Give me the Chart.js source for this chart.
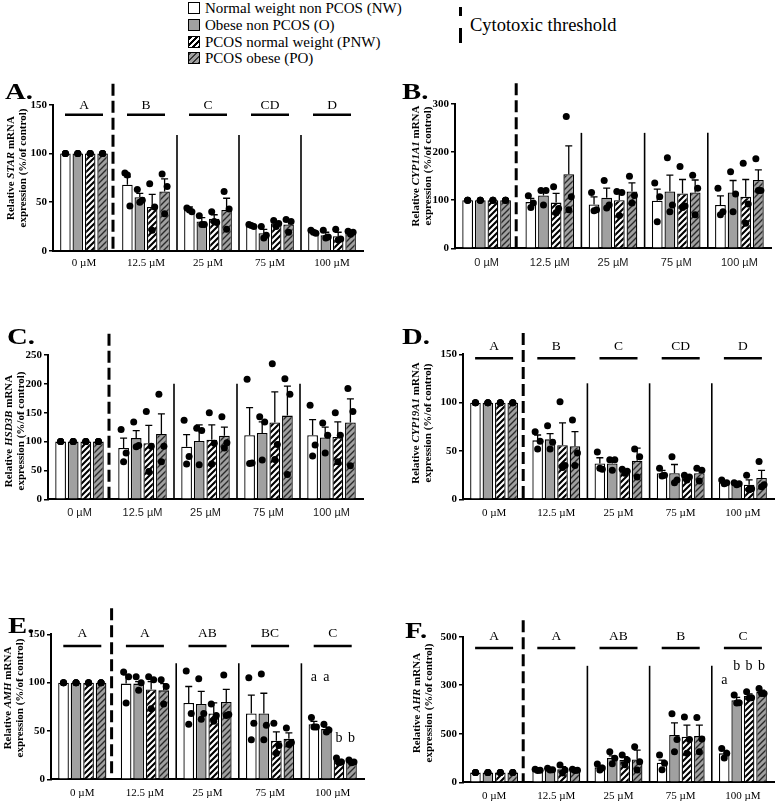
<!DOCTYPE html>
<html>
<head>
<meta charset="utf-8">
<script src="https://cdn.jsdelivr.net/npm/chart.js@4.4.0/dist/chart.umd.min.js"></script>
<style>
  body { margin: 0; background: #fff; }
  #page { position: relative; width: 776px; height: 803px; overflow: hidden; background: #fff;
          font-family: "Liberation Serif", "Times New Roman", serif; color: #000; }
  canvas { position: absolute; }
  .plabel { position: absolute; font-weight: bold; font-size: 23px; line-height: 1; transform: scaleX(1.25); transform-origin: left top; }
  .ytitle { position: absolute; transform: translate(-50%, -50%) rotate(-90deg); white-space: nowrap;
            font-weight: bold; font-size: 11px; line-height: 12px; text-align: center; }
  .lg-box { position: absolute; width: 10px; height: 10px; border: 1px solid #000; box-sizing: content-box; }
  .lg-txt { position: absolute; font-size: 15px; line-height: 18px; white-space: nowrap; }
  .dash { position: absolute; width: 3px; background: #000; }
</style>
</head>
<body>
<div id="page"></div>
<script>
// ---------------- DATA ----------------
const categories = ['0 µM', '12.5 µM', '25 µM', '75 µM', '100 µM'];
const seriesNames = ['Normal weight non PCOS (NW)', 'Obese non PCOS (O)', 'PCOS normal weight (PNW)', 'PCOS obese (PO)'];
const thresholdLabel = 'Cytotoxic threshold';

// A. STAR  (rows: NW, O, PNW, PO)
const starMeans = [[100, 68, 42, 26, 19.5], [100, 55, 30, 18, 16], [100, 45, 33, 28, 15], [100, 61, 42, 27, 18.5]];
const starSem   = [[0, 8, 3, 1, 1.5], [0, 4, 4, 4, 3], [0, 13, 4, 2, 4], [0, 13, 12, 4, 1]];
const starDots  = [
  [[100,100,100],[80,46,78],[44,40,42],[27,25,26],[21,18,19]],
  [[100,100,100],[63,52,50],[36,27,27],[25,16,13],[21,14,13]],
  [[100,100,100],[69,45,21],[40,29,30],[31,28,25],[22,12,11]],
  [[100,100,100],[79,66,38],[61,43,22],[32,30,19],[20,19,17]]];
const starLetters = ['A', 'B', 'C', 'CD', 'D'];

// B. CYP11A1
const cypMeans = [[100, 96, 91, 99, 90], [100, 110, 105, 118, 116], [100, 95, 100, 114, 107], [100, 154, 118, 116, 142]];
const cypSem   = [[0, 8, 16, 24, 19], [0, 11, 20, 34, 25], [0, 19, 18, 29, 36], [0, 59, 18, 26, 21]];
const cypDots  = [
  [[100,100,100],[109,94,85],[116,80,78],[136,107,55],[125,76,70]],
  [[100,100,100],[120,120,90],[141,90,84],[188,90,76],[159,113,76]],
  [[100,100,100],[128,83,74],[118,116,68],[170,88,85],[177,92,52]],
  [[100,100,100],[274,107,80],[150,110,94],[152,125,70],[186,120,120]]];

// C. HSD3B
const hsdMeans = [[100, 89, 91, 111, 111], [100, 106, 101, 115, 107], [100, 97, 103, 133, 108], [100, 113, 110, 145, 133]];
const hsdSem   = [[0, 17, 21, 48, 27], [0, 13, 28, 19, 18], [0, 31, 26, 53, 26], [0, 35, 15, 51, 41]];
const hsdDots  = [
  [[100,100,100],[121,80,65],[137,74,61],[208,63,62],[163,94,75]],
  [[100,100,100],[134,93,91],[123,119,60],[143,134,68],[132,111,80]],
  [[100,100,100],[152,92,48],[150,97,61],[235,95,69],[150,111,65]],
  [[100,100,100],[182,92,65],[143,98,89],[209,182,43],[192,152,58]]];

// D. CYP19A1
const aroMeans = [[100, 61, 37, 27, 17.5], [100, 62, 37, 27, 16], [100, 56, 29, 23, 15], [100, 55, 40, 27, 22]];
const aroSem   = [[0, 5.5, 6, 3, 1.5], [0, 6, 5, 9, 1], [0, 23, 1.5, 1.5, 5], [0, 15, 13, 3, 8]];
const aroDots  = [
  [[100,100,100],[70,60,52],[49,31,32],[32,25,24],[20,17,16]],
  [[100,100,100],[76,59,52],[41,41,30],[44,20,17],[17,16,15]],
  [[100,100,100],[101,35,33],[31,29,27],[25,23,20],[25,11,10]],
  [[100,100,100],[82,48,35],[52,44,23],[32,30,19],[39,15,13]]];
const aroLetters = ['A', 'B', 'C', 'CD', 'D'];

// E. AMH
const amhMeans = [[100, 99, 79, 68, 57], [100, 99, 78, 68, 52], [100, 93, 68, 40, 19], [100, 92, 80, 42, 18]];
const amhSem   = [[0, 9, 17, 19, 3], [0, 2, 13, 21, 2], [0, 8, 11, 9, 1.5], [0, 7, 13, 6, 1]];
const amhDots  = [
  [[100,100,100],[111,106,79],[112,68,57],[105,58,41],[64,54,54]],
  [[100,100,100],[106,100,92],[104,68,62],[109,56,41],[57,51,49]],
  [[100,100,100],[106,103,73],[78,66,60],[58,35,27],[22,18,17]],
  [[100,100,100],[103,96,78],[108,67,66],[53,38,36],[20,18,17]]];
const amhLetters = ['A', 'A', 'AB', 'BC', 'C'];
const amhSigText = ['a', 'a', 'b', 'b'];
const amhSigVal  = [105, 105, 42, 42];

// F. AHR
const ahrMeans = [[100, 127, 154, 202, 298], [100, 134, 250, 487, 846], [100, 134, 230, 470, 890], [100, 127, 235, 476, 932]];
const ahrSem   = [[0, 8, 20, 27, 30], [0, 8, 23, 126, 28], [0, 27, 34, 119, 22], [0, 8, 97, 113, 17]];
const ahrDots  = [
  [[100,100,100],[134,125,122],[188,148,126],[281,195,130],[349,298,250]],
  [[100,100,100],[144,130,128],[315,247,190],[705,440,315],[900,820,818]],
  [[100,100,100],[178,127,97],[281,229,180],[672,440,298],[932,870,868]],
  [[100,100,100],[134,125,122],[366,212,127],[668,445,315],[966,916,914]]];
const ahrLetters = ['A', 'A', 'AB', 'B', 'C'];
const ahrSigText = ['a', 'b', 'b', 'b'];
const ahrSigVal  = [1050, 1190, 1190, 1190];
const ahrTickLabels = ['0', '500', '300', '500'];

// ---------------- STYLE / LAYOUT ----------------
const SERIF = '"Liberation Serif", "Times New Roman", serif';
const SANS = '"Liberation Sans", Arial, sans-serif';
const GRAY = '#a0a0a0';
const YW = 40;
const dotJitter = [-2.5, 2.5, 0];

const panels = [
  { key: 'A', gene: 'STAR', means: starMeans, sem: starSem, dots: starDots, letters: starLetters,
    box: [0, 78, 388, 205], area: [53, 363, 105, 250.7], ymax: 150, step: 50, catFont: SERIF, catPad: 6,
    dashTop: 172, sepTop: 119, lineVal: 140, letterVal: 150,
    lbl: [5, 80], title: [16, 168] },
  { key: 'B', gene: 'CYP11A1', means: cypMeans, sem: cypSem, dots: cypDots,
    box: [388, 78, 388, 205], area: [455, 771, 104, 248.3], ymax: 300, step: 100, catFont: SANS, catPad: 8,
    dashTop: 343, sepTop: 240,
    lbl: [402, 80], title: [421, 166] },
  { key: 'C', gene: 'HSD3B', means: hsdMeans, sem: hsdSem, dots: hsdDots,
    box: [0, 325, 388, 205], area: [48, 363, 355, 499.3], ymax: 250, step: 50, catFont: SANS, catPad: 7.5,
    dashTop: 287, sepTop: 200,
    lbl: [7, 325], title: [14, 431] },
  { key: 'D', gene: 'CYP19A1', means: aroMeans, sem: aroSem, dots: aroDots, letters: aroLetters,
    box: [388, 325, 388, 205], area: [463, 774, 354.3, 499.3], ymax: 150, step: 50, catFont: SERIF, catPad: 7,
    dashTop: 172, sepTop: 120, lineVal: 146, letterVal: 158,
    lbl: [402, 325], title: [421, 423] },
  { key: 'E', gene: 'AMH', means: amhMeans, sem: amhSem, dots: amhDots, letters: amhLetters,
    sigText: amhSigText, sigVal: amhSigVal,
    box: [0, 600, 388, 203], area: [51, 364, 634.3, 779.3], ymax: 150, step: 50, catFont: SERIF, catPad: 7,
    dashTop: 177, sepTop: 120, lineVal: 138, letterVal: 151,
    lbl: [8, 614], title: [13, 698] },
  { key: 'F', gene: 'AHR', means: ahrMeans, sem: ahrSem, dots: ahrDots, letters: ahrLetters,
    sigText: ahrSigText, sigVal: ahrSigVal, tickLabels: ahrTickLabels,
    box: [388, 600, 388, 203], area: [463, 774, 636.7, 782.3], ymax: 1500, step: 500, catFont: SERIF, catPad: 7,
    dashTop: 1670, sepTop: 1200, lineVal: 1383, letterVal: 1503,
    lbl: [405, 619], title: [422, 703] }
];

const page = document.getElementById('page');

function el(tag, cls, css, html) {
  const e = document.createElement(tag);
  if (cls) e.className = cls;
  Object.assign(e.style, css || {});
  if (html !== undefined) e.innerHTML = html;
  page.appendChild(e);
  return e;
}

// ---------------- LEGEND ----------------
const swatchBg = [
  '#fff', GRAY,
  'repeating-linear-gradient(135deg, #000 0 2.2px, #fff 2.2px 4.4px)',
  'repeating-linear-gradient(135deg, #333 0 1.6px, ' + GRAY + ' 1.6px 4.4px)'
];
seriesNames.forEach((name, i) => {
  const cy = 8 + i * 16.8;
  el('div', 'lg-box', { left: '188px', top: (cy - 6) + 'px', background: swatchBg[i] });
  el('div', 'lg-txt', { left: '205px', top: (cy - 9) + 'px' }, name);
});
el('div', 'dash', { left: '459px', top: '7px', height: '9px' });
el('div', 'dash', { left: '459px', top: '28px', height: '15px' });
el('div', 'lg-txt', { left: '470px', top: '14px', fontSize: '18.5px', lineHeight: '22px' }, thresholdLabel);

// ---------------- PANELS ----------------
function hatch(ctx, bg, fg, lw) {
  const c = document.createElement('canvas');
  c.width = 6; c.height = 6;
  const g = c.getContext('2d');
  g.fillStyle = bg; g.fillRect(0, 0, 6, 6);
  g.strokeStyle = fg; g.lineWidth = lw;
  g.beginPath();
  g.moveTo(-1, 7); g.lineTo(7, -1);
  g.moveTo(-4, 4); g.lineTo(4, -4);
  g.moveTo(2, 10); g.lineTo(10, 2);
  g.stroke();
  return ctx.createPattern(c, 'repeat');
}

function makeDecor(P) {
  return {
    id: 'decor' + P.key,
    afterDatasetsDraw(chart) {
      const ctx = chart.ctx, xs = chart.scales.x, ys = chart.scales.y, ca = chart.chartArea;
      ctx.save();
      // error bars (upper SEM)
      ctx.strokeStyle = '#000'; ctx.lineWidth = 1.3; ctx.setLineDash([]);
      for (let s = 0; s < 4; s++) {
        const meta = chart.getDatasetMeta(s);
        meta.data.forEach((bar, j) => {
          const sem = P.sem[s][j];
          if (!sem) return;
          const y0 = ys.getPixelForValue(P.means[s][j]);
          const y1 = ys.getPixelForValue(P.means[s][j] + sem);
          ctx.beginPath();
          ctx.moveTo(bar.x, y0); ctx.lineTo(bar.x, y1);
          ctx.moveTo(bar.x - 3.5, y1); ctx.lineTo(bar.x + 3.5, y1);
          ctx.stroke();
        });
      }
      // individual points (identical replicate values stack on one spot)
      ctx.fillStyle = '#000';
      for (let s = 0; s < 4; s++) {
        const meta = chart.getDatasetMeta(s);
        meta.data.forEach((bar, j) => {
          const vals = P.dots[s][j];
          const same = vals.every(v => v === vals[0]);
          vals.forEach((v, k) => {
            ctx.beginPath();
            ctx.arc(bar.x + (same ? 0 : dotJitter[k]), ys.getPixelForValue(v), 3.5, 0, Math.PI * 2);
            ctx.fill();
          });
        });
      }
      // group separators + cytotoxic threshold
      const centers = categories.map((c, i) => xs.getPixelForValue(i));
      ctx.strokeStyle = '#000';
      for (let i = 1; i < centers.length - 1; i++) {
        const bx = (centers[i] + centers[i + 1]) / 2;
        ctx.lineWidth = 1.6;
        ctx.beginPath(); ctx.moveTo(bx, ys.getPixelForValue(P.sepTop)); ctx.lineTo(bx, ca.bottom); ctx.stroke();
      }
      const dx = (centers[0] + centers[1]) / 2 - 2;
      ctx.lineWidth = 3; ctx.setLineDash([12, 5]);
      ctx.beginPath(); ctx.moveTo(dx, ys.getPixelForValue(P.dashTop)); ctx.lineTo(dx, ca.bottom); ctx.stroke();
      ctx.setLineDash([]);
      // group letters
      if (P.letters) {
        ctx.font = '13.5px ' + SERIF; ctx.textAlign = 'center'; ctx.textBaseline = 'middle';
        P.letters.forEach((t, i) => {
          const ly = ys.getPixelForValue(P.lineVal);
          ctx.lineWidth = 2.5;
          ctx.beginPath(); ctx.moveTo(centers[i] - 19, ly); ctx.lineTo(centers[i] + 19, ly); ctx.stroke();
          ctx.fillText(t, centers[i], ys.getPixelForValue(P.letterVal));
        });
      }
      // within-dose letters (100 µM)
      if (P.sigText) {
        ctx.font = '14px ' + SERIF; ctx.textAlign = 'center'; ctx.textBaseline = 'middle';
        P.sigText.forEach((t, s) => {
          const bar = chart.getDatasetMeta(s).data[4];
          ctx.fillText(t, bar.x, ys.getPixelForValue(P.sigVal[s]));
        });
      }
      ctx.restore();
    }
  };
}

panels.forEach(P => {
  const [bx, by, bw, bh] = P.box;
  const [al, ar, at, ab] = P.area;
  const XH = by + bh - ab;
  const cv = document.createElement('canvas');
  cv.width = bw; cv.height = bh;
  cv.style.left = bx + 'px'; cv.style.top = by + 'px';
  page.appendChild(cv);
  const ctx = cv.getContext('2d');
  const fills = ['#fff', GRAY, hatch(ctx, '#fff', '#000', 2.1), hatch(ctx, GRAY, '#2a2a2a', 1.4)];

  // panel label and axis title
  el('div', 'plabel', { left: P.lbl[0] + 'px', top: P.lbl[1] + 'px' }, P.key + '.');
  el('div', 'ytitle', { left: P.title[0] + 'px', top: P.title[1] + 'px' },
     'Relative <i>' + P.gene + '</i> mRNA<br>expression (%/of control)');

  new Chart(ctx, {
    type: 'bar',
    data: {
      labels: categories,
      datasets: P.means.map((m, s) => ({
        label: seriesNames[s],
        data: m,
        backgroundColor: fills[s],
        borderColor: '#000',
        borderWidth: 1.3,
        categoryPercentage: 0.8,
        barPercentage: 0.85
      }))
    },
    options: {
      responsive: false,
      animation: false,
      layout: { padding: { left: al - bx - YW, right: bx + bw - ar, top: at - by, bottom: 0 } },
      plugins: { legend: { display: false }, tooltip: { enabled: false } },
      scales: {
        x: {
          grid: { display: true, drawOnChartArea: false, drawTicks: false, color: 'rgba(0,0,0,0)' },
          border: { display: true, color: '#000', width: 2 },
          ticks: { color: P.catFont === SANS ? '#222' : '#000', font: { family: P.catFont, size: 11 },
                   padding: P.catPad, maxRotation: 0, autoSkip: false },
          afterFit: s => { s.height = XH; }
        },
        y: {
          min: 0, max: P.ymax,
          grid: { drawOnChartArea: false, drawTicks: true, tickLength: 4, color: '#000', lineWidth: 1.5 },
          border: { display: true, color: '#000', width: 2 },
          ticks: {
            stepSize: P.step, color: '#000', padding: 2,
            font: { family: SERIF, size: 11, weight: 'bold' },
            callback: (v, i) => P.tickLabels ? P.tickLabels[i] : v
          },
          afterFit: s => { s.width = YW; }
        }
      }
    },
    plugins: [makeDecor(P)]
  });
});
</script>
</body>
</html>
